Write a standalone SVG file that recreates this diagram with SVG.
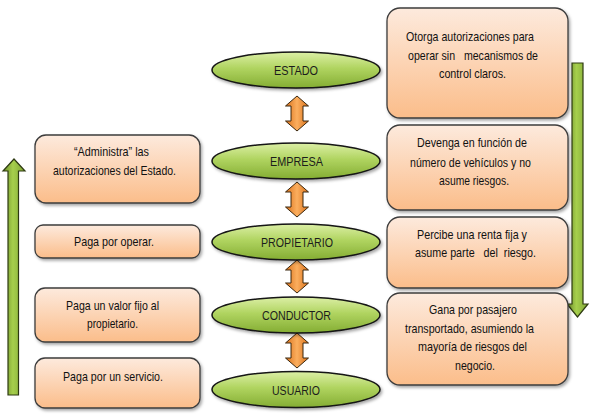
<svg xmlns="http://www.w3.org/2000/svg" width="590" height="415" viewBox="0 0 590 415">
<defs>
<linearGradient id="gEll" x1="0" y1="0" x2="0" y2="1">
<stop offset="0" stop-color="#dcefa6"/>
<stop offset="0.45" stop-color="#b0d460"/>
<stop offset="1" stop-color="#84ad33"/>
</linearGradient>
<linearGradient id="gBox" x1="0" y1="0" x2="0" y2="1">
<stop offset="0" stop-color="#fdeadd"/>
<stop offset="1" stop-color="#fbbd8a"/>
</linearGradient>
<linearGradient id="gOr" x1="0" y1="0" x2="1" y2="0">
<stop offset="0" stop-color="#d9701a"/>
<stop offset="0.5" stop-color="#fbae5e"/>
<stop offset="1" stop-color="#d9701a"/>
</linearGradient>
<linearGradient id="gGr" x1="0" y1="0" x2="1" y2="0">
<stop offset="0" stop-color="#6c8c2a"/>
<stop offset="0.45" stop-color="#a6cf4c"/>
<stop offset="1" stop-color="#7fa535"/>
</linearGradient>
<filter id="sh" x="-10%" y="-10%" width="130%" height="140%">
<feDropShadow dx="1.5" dy="2" stdDeviation="1.5" flood-color="#000" flood-opacity="0.35"/>
</filter>
</defs>
<style>
.ell{fill:url(#gEll);stroke:#151515;stroke-width:1.5;filter:url(#sh)}
.box{fill:url(#gBox);stroke:#3c3c3c;stroke-width:1.3;filter:url(#sh)}
.dbl{fill:url(#gOr);stroke:#3a2810;stroke-width:1}
.big{fill:url(#gGr);stroke:#2e3a12;stroke-width:1.2}
text{font-family:"Liberation Sans",Arial,sans-serif;fill:#111;text-anchor:middle;white-space:pre}
.lab{font-size:13.5px;fill:#1c1c1c}
.t{font-size:13px}
</style>
<rect width="590" height="415" fill="#fff"/>
<g id="connectors">
<path class="dbl" d="M297,96 L308.5,106 L303,106 L303,121 L308.5,121 L297,131 L285.5,121 L291,121 L291,106 L285.5,106 Z"/>
<path class="dbl" d="M297,182 L308.5,192 L303,192 L303,207 L308.5,207 L297,217 L285.5,207 L291,207 L291,192 L285.5,192 Z"/>
<path class="dbl" d="M297,260 L308.5,270 L303,270 L303,283 L308.5,283 L297,293 L285.5,283 L291,283 L291,270 L285.5,270 Z"/>
<path class="dbl" d="M297,333 L308.5,343 L303,343 L303,358 L308.5,358 L297,368 L285.5,358 L291,358 L291,343 L285.5,343 Z"/>
<path class="big" d="M14,159 L25,171 L18.5,171 L18.5,395 L8,395 L8,171 L3,171 Z"/>
<path class="big" d="M572,63 L583,63 L583,304 L588,304 L577.5,317 L567,304 L572,304 Z"/>
</g>
<g id="estado"><ellipse class="ell" cx="296" cy="70" rx="84" ry="18"/><text class="lab" x="296" y="75" textLength="44" lengthAdjust="spacingAndGlyphs">ESTADO</text></g>
<g id="empresa"><ellipse class="ell" cx="296" cy="161" rx="84" ry="18"/><text class="lab" x="296.5" y="166" textLength="53" lengthAdjust="spacingAndGlyphs">EMPRESA</text></g>
<g id="propietario"><ellipse class="ell" cx="296" cy="242" rx="84" ry="18"/><text class="lab" x="297" y="247" textLength="72" lengthAdjust="spacingAndGlyphs">PROPIETARIO</text></g>
<g id="conductor"><ellipse class="ell" cx="296" cy="315" rx="84" ry="18"/><text class="lab" x="296.5" y="320" textLength="69" lengthAdjust="spacingAndGlyphs">CONDUCTOR</text></g>
<g id="usuario"><ellipse class="ell" cx="296" cy="389.5" rx="84" ry="18"/><text class="lab" x="296" y="394.5" textLength="48" lengthAdjust="spacingAndGlyphs">USUARIO</text></g>
<g id="r1"><rect class="box" x="387" y="8" width="181" height="110" rx="13"/>
<text class="t" x="470" y="41" textLength="128" lengthAdjust="spacingAndGlyphs">Otorga autorizaciones para</text>
<text class="t" x="473" y="60" textLength="130" lengthAdjust="spacingAndGlyphs">operar sin   mecanismos de</text>
<text class="t" x="472.5" y="78" textLength="67" lengthAdjust="spacingAndGlyphs">control claros.</text></g>
<g id="r2"><rect class="box" x="387" y="125" width="181" height="85" rx="13"/>
<text class="t" x="472" y="147" textLength="110" lengthAdjust="spacingAndGlyphs">Devenga en función de</text>
<text class="t" x="470.5" y="167" textLength="121" lengthAdjust="spacingAndGlyphs">número de vehículos y no</text>
<text class="t" x="474" y="185" textLength="70" lengthAdjust="spacingAndGlyphs">asume riesgos.</text></g>
<g id="r3"><rect class="box" x="387" y="217" width="181" height="71" rx="13"/>
<text class="t" x="472" y="239" textLength="110" lengthAdjust="spacingAndGlyphs">Percibe una renta fija y</text>
<text class="t" x="475.5" y="257" textLength="121" lengthAdjust="spacingAndGlyphs">asume parte   del  riesgo.</text></g>
<g id="r4"><rect class="box" x="387" y="293" width="181" height="92" rx="13"/>
<text class="t" x="473" y="314" textLength="88" lengthAdjust="spacingAndGlyphs">Gana por pasajero</text>
<text class="t" x="469.5" y="333" textLength="129" lengthAdjust="spacingAndGlyphs">transportado, asumiendo la</text>
<text class="t" x="472.5" y="351" textLength="109" lengthAdjust="spacingAndGlyphs">mayoría de riesgos del</text>
<text class="t" x="475" y="370" textLength="40" lengthAdjust="spacingAndGlyphs">negocio.</text></g>
<g id="l1"><rect class="box" x="35" y="135" width="165" height="68" rx="11"/>
<text class="t" x="111.5" y="156" textLength="75" lengthAdjust="spacingAndGlyphs">“Administra” las</text>
<text class="t" x="114.5" y="175" textLength="123" lengthAdjust="spacingAndGlyphs">autorizaciones del Estado.</text></g>
<g id="l2"><rect class="box" x="35" y="225" width="165" height="33" rx="8"/>
<text class="t" x="114" y="246" textLength="80" lengthAdjust="spacingAndGlyphs">Paga por operar.</text></g>
<g id="l3"><rect class="box" x="35" y="288" width="165" height="54" rx="10"/>
<text class="t" x="112.5" y="310" textLength="93" lengthAdjust="spacingAndGlyphs">Paga un valor fijo al</text>
<text class="t" x="112.5" y="328" textLength="51" lengthAdjust="spacingAndGlyphs">propietario.</text></g>
<g id="l4"><rect class="box" x="35" y="358" width="165" height="50" rx="10"/>
<text class="t" x="113" y="381" textLength="100" lengthAdjust="spacingAndGlyphs">Paga por un servicio.</text></g>
</svg>
